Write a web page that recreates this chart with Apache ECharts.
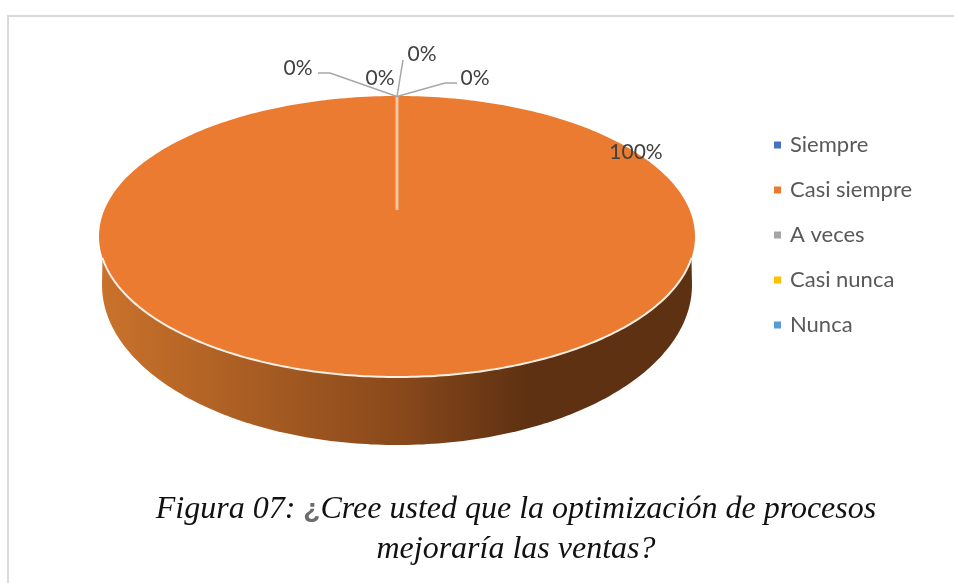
<!DOCTYPE html>
<html>
<head>
<meta charset="utf-8">
<script src="https://cdn.jsdelivr.net/npm/echarts@6/dist/echarts.min.js"></script>
<style>
  html, body { margin: 0; padding: 0; background: #fff; }
  #main { width: 954px; height: 583px; }
</style>
</head>
<body>
<div id="main"></div>
<script>
// data
var categories = ['Siempre', 'Casi siempre', 'A veces', 'Casi nunca', 'Nunca'];
var values = [0, 100, 0, 0, 0];
var colors = ['#4472c4', '#ea7b30', '#a5a5a5', '#ffc000', '#5b9bd5'];

// the fake 3d disc
var top3d = { cx: 397, cy: 236.5, rx: 298, ry: 140.5, apexY: 210 };
var bottom3d = { cx: 397, cy: 285, rx: 295, ry: 160 };
var sideFrom = 258; // y where the side wall starts

// label place for each category: anchor of text and leader line
var labelPlace = [
  { x: 475, y: 78, leader: [[397, 96.5], [445, 83], [457, 83]] },
  { x: 636, y: 152, leader: null },
  { x: 298, y: 68, leader: [[397, 96.5], [330, 73], [318, 73]] },
  { x: 380, y: 78, leader: null },
  { x: 422, y: 54, leader: [[397, 96.5], [403, 60]] }
];

var total = values.reduce(function (a, b) { return a + b; }, 0);

function edgePoint(ell, frac) {
  // frac 0 is 12 o'clock, going clockwise
  var a = frac * Math.PI * 2;
  return [ell.cx + ell.rx * Math.sin(a), ell.cy - ell.ry * Math.cos(a)];
}

function slicePoints(from, to) {
  var pts = [[top3d.cx, top3d.apexY]];
  var steps = Math.max(1, Math.ceil((to - from) * 360));
  for (var i = 0; i <= steps; i++) {
    pts.push(edgePoint(top3d, from + (to - from) * i / steps));
  }
  return pts;
}

function sidePoints() {
  var pts = [];
  var dy = (sideFrom - top3d.cy) / top3d.ry;
  var dx = Math.sqrt(1 - dy * dy) * top3d.rx;
  pts.push([top3d.cx + dx, sideFrom]);
  // lower edge from right to left
  for (var i = 0; i <= 180; i++) {
    pts.push(edgePoint(bottom3d, 0.25 + 0.5 * i / 180));
  }
  pts.push([top3d.cx - dx, sideFrom]);
  // back along the top disc so the wall has no hole
  pts.push([top3d.cx, top3d.cy]);
  return pts;
}

function frontRim() {
  var pts = [];
  var start = Math.acos((sideFrom - top3d.cy) / top3d.ry) / (Math.PI * 2);
  for (var i = 0; i <= 180; i++) {
    var f = 0.5 - start + 2 * start * i / 180;
    pts.push(edgePoint(top3d, f));
  }
  return pts;
}

function renderSlice(params, api) {
  var idx = params.seriesIndex;
  var v = api.value(0);
  var from = values.slice(0, idx).reduce(function (a, b) { return a + b; }, 0) / total;
  var to = from + v / total;
  var children = [];
  if (v > 0) {
    children.push({
      type: 'polygon',
      shape: { points: sidePoints() },
      style: {
        fill: new echarts.graphic.LinearGradient(0, 0, 1, 0, [
          { offset: 0, color: '#c9722b' },
          { offset: 0.5, color: '#8a491b' },
          { offset: 0.72, color: '#5e3112' },
          { offset: 1, color: '#5e3112' }
        ])
      }
    });
    children.push({
      type: 'polygon',
      shape: { points: slicePoints(from, to) },
      style: { fill: colors[idx] }
    });
    children.push({
      type: 'polyline',
      shape: { points: frontRim() },
      style: { fill: 'none', stroke: '#f8efe6', lineWidth: 2 }
    });
    children.push({
      type: 'line',
      shape: { x1: top3d.cx, y1: top3d.cy - top3d.ry, x2: top3d.cx, y2: top3d.apexY },
      style: { stroke: '#f4c6a3', lineWidth: 3 }
    });
  }
  var place = labelPlace[idx];
  if (place.leader) {
    children.push({
      type: 'polyline',
      shape: { points: place.leader },
      style: { fill: 'none', stroke: '#a6a6a6', lineWidth: 1.5 },
      z2: 5
    });
  }
  children.push({
    type: 'text',
    x: place.x,
    y: place.y,
    style: {
      text: Math.round(v / total * 100) + '%',
      fill: '#404040',
      font: '21px Lato',
      align: 'center',
      verticalAlign: 'middle'
    },
    z2: 10
  });
  return { type: 'group', children: children };
}

var chart = echarts.init(document.getElementById('main'), null, { renderer: 'canvas' });

var captionFont = 'italic 32px "Liberation Serif"';

var option = {
  animation: false,
  backgroundColor: '#fff',
  legend: {
    orient: 'vertical',
    left: 774,
    top: 134,
    padding: 0,
    icon: 'rect',
    itemWidth: 7,
    itemHeight: 7,
    itemGap: 23,
    data: categories,
    textStyle: { color: '#595959', fontSize: 22, lineHeight: 22, fontFamily: 'Lato', padding: [0, 0, 0, 4] }
  },
  // caption and chart frame
  graphic: [
    {
      type: 'polyline',
      shape: { points: [[8, 583], [8, 16], [954, 16]] },
      style: { fill: 'none', stroke: '#d9d9d9', lineWidth: 2 }
    },
    {
      type: 'text',
      x: 516,
      y: 510,
      style: {
        text: 'Figura 07: {q|¿}Cree usted que la optimización de procesos',
        rich: { q: { fontFamily: 'Liberation Sans', fontStyle: 'normal', fontWeight: 'bold', fontSize: 28, fill: '#6b6b6b', color: '#6b6b6b' } },
        fill: '#111',
        font: captionFont,
        align: 'center',
        verticalAlign: 'middle'
      }
    },
    {
      type: 'text',
      x: 516,
      y: 550,
      style: {
        text: 'mejoraría las ventas?',
        fill: '#111',
        font: captionFont,
        align: 'center',
        verticalAlign: 'middle'
      }
    }
  ],
  series: categories.map(function (name, i) {
    return {
      name: name,
      type: 'custom',
      coordinateSystem: 'none',
      itemStyle: { color: colors[i] },
      renderItem: renderSlice,
      data: [[values[i]]]
    };
  })
};

chart.setOption(option);
</script>
</body>
</html>
